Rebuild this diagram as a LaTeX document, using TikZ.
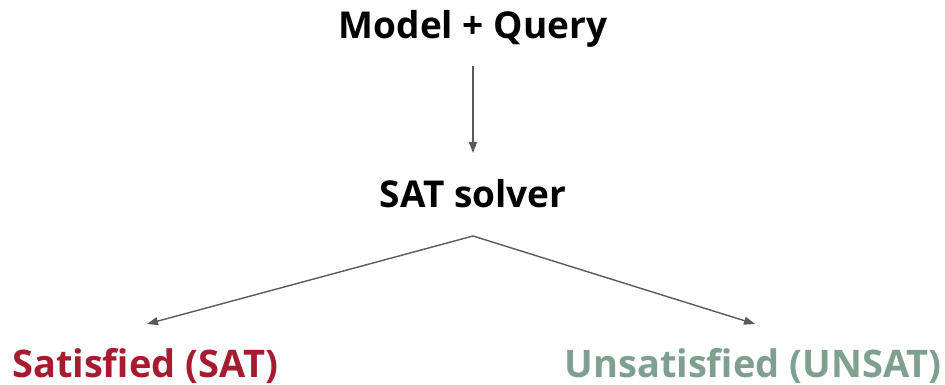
\documentclass[tikz,border=0pt]{standalone}
\usepackage{fontspec}
\setmainfont{Open Sans}
\usetikzlibrary{arrows.meta}
\definecolor{satred}{HTML}{A51C30}
\definecolor{unsatgreen}{HTML}{7FA08F}
\definecolor{linkgray}{HTML}{5A5A5A}
\tikzset{
  label/.style={font=\fontsize{37}{41}\selectfont\bfseries, inner sep=0pt, anchor=base},
  result/.style={label, font=\fontsize{38}{42}\selectfont\bfseries},
  link/.style={draw=linkgray, line width=1.4pt, -{Triangle[length=11pt, width=8pt]}},
}
\begin{document}
\begin{tikzpicture}[x=1pt, y=-1pt]
  \useasboundingbox (0,0) rectangle (945,385);
  \node[label] (mq) at (473,39) {Model + Query};
  \node[label] (solver) at (473,207) {SAT solver};
  \node[result, text=satred] (sat) at (145,377) {Satisfied (SAT)};
  \node[result, text=unsatgreen] (unsat) at (753,377) {Unsatisfied (UNSAT)};
  \coordinate (mqout) at (473,66);
  \coordinate (solverin) at (473,153);
  \coordinate (fork) at (473,236);
  \coordinate (satin) at (147,324);
  \coordinate (unsatin) at (755,324);
  \draw[link] (mqout) -- (solverin);
  \draw[link] (fork) -- (satin);
  \draw[link] (fork) -- (unsatin);
\end{tikzpicture}
\end{document}
